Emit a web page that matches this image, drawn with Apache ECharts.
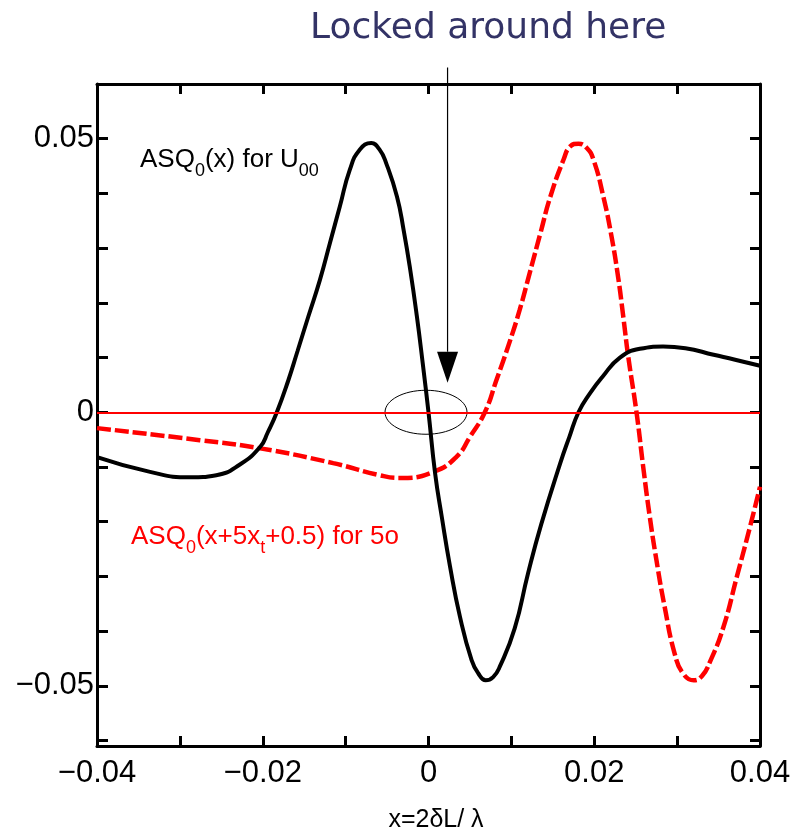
<!DOCTYPE html>
<html>
<head>
<meta charset="utf-8">
<script src="https://cdn.jsdelivr.net/npm/echarts@6/dist/echarts.min.js"></script>
<style>
  html, body { margin: 0; padding: 0; background: #fff; }
  #chart { width: 795px; height: 833px; }
</style>
</head>
<body>
<div id="chart"></div>
<script>
// Tick positions and labelled values
const xTicks = [-0.04, -0.03, -0.02, -0.01, 0, 0.01, 0.02, 0.03, 0.04];
const xLabels = [-0.04, -0.02, 0, 0.02, 0.04];
const yTicks = [-0.06, -0.05, -0.04, -0.03, -0.02, -0.01, 0, 0.01, 0.02, 0.03, 0.04, 0.05, 0.06];
const yLabels = [-0.05, 0, 0.05];

// ASQ0(x) for U00  [x, ASQ]
const asqU00 = [
  [-0.0400, -0.0082], [-0.0336, -0.0109], [-0.0288, -0.0119], [-0.0256, -0.0115],
  [-0.0228, -0.0096], [-0.0203, -0.0063], [-0.0194, -0.0037], [-0.0183, 0.0000],
  [-0.0169, 0.0059], [-0.0158, 0.0112], [-0.0145, 0.0175], [-0.0131, 0.0242],
  [-0.0119, 0.0309], [-0.0107, 0.0376], [-0.0095, 0.0443], [-0.0083, 0.0480],
  [-0.0069, 0.0492], [-0.0059, 0.0480], [-0.0051, 0.0455], [-0.0038, 0.0394],
  [-0.0030, 0.0333], [-0.0022, 0.0260], [-0.0014, 0.0175], [-0.0007, 0.0090],
  [0.0000, 0.0000], [0.0008, -0.0112], [0.0016, -0.0191], [0.0026, -0.0282],
  [0.0038, -0.0374], [0.0052, -0.0453], [0.0060, -0.0477], [0.0069, -0.0490],
  [0.0078, -0.0484], [0.0086, -0.0465], [0.0104, -0.0395], [0.0120, -0.0295],
  [0.0136, -0.0205], [0.0159, -0.0093], [0.0170, -0.0045], [0.0181, 0.0000],
  [0.0195, 0.0035], [0.0210, 0.0065], [0.0231, 0.0100], [0.0255, 0.0116],
  [0.0283, 0.0120], [0.0310, 0.0117], [0.0344, 0.0105], [0.0370, 0.0096],
  [0.0400, 0.0085]
];

// ASQ0(x+5xt+0.5) for 5o  [x, ASQ]
const asqShifted = [
  [-0.0400, -0.0029], [-0.0276, -0.0051], [-0.0203, -0.0066], [-0.0115, -0.0093],
  [-0.0059, -0.0115], [-0.0034, -0.0120], [0.0006, -0.0109], [0.0034, -0.0081],
  [0.0050, -0.0045], [0.0068, 0.0000], [0.0082, 0.0059], [0.0096, 0.0120],
  [0.0110, 0.0187], [0.0122, 0.0254], [0.0135, 0.0327], [0.0147, 0.0394],
  [0.0163, 0.0462], [0.0171, 0.0486], [0.0181, 0.0491], [0.0191, 0.0483],
  [0.0199, 0.0462], [0.0211, 0.0394], [0.0221, 0.0320], [0.0229, 0.0245],
  [0.0235, 0.0175], [0.0241, 0.0102], [0.0251, 0.0000], [0.0259, -0.0099],
  [0.0267, -0.0191], [0.0275, -0.0270], [0.0285, -0.0356], [0.0297, -0.0441],
  [0.0307, -0.0477], [0.0320, -0.0490], [0.0330, -0.0482], [0.0340, -0.0455],
  [0.0356, -0.0392], [0.0372, -0.0301], [0.0388, -0.0209], [0.0400, -0.0136]
];

// Reference level and the "locked" annotation anchors (data coordinates)
const zeroLevel = 0;
const lockArrowTip = [0.0023, 0.0054];
const lockArrowTail = [0.0023, 0.063];
const lockRegionCenter = [-0.0003, 0];

const FONT = '"Liberation Sans", Arial, Helvetica, sans-serif';
const fmt = v => {
  if (Math.abs(v) < 1e-12) return '0';
  const s = Math.abs(v).toFixed(2);
  return v < 0 ? '\u2212' + s : s;
};

const frameLine = { onZero: false, lineStyle: { color: '#000', width: 3 } };
const tickStyle = { color: '#000', width: 3 };

const chart = echarts.init(document.getElementById('chart'), null, { renderer: 'canvas' });

chart.setOption({
  animation: false,
  backgroundColor: '#fff',
  grid: { left: 97, right: 35, top: 84, bottom: 87, containLabel: false },
  xAxis: [
    {
      type: 'value', position: 'bottom', min: -0.04, max: 0.04,
      axisLine: frameLine,
      axisTick: { inside: true, length: 10, lineStyle: tickStyle, customValues: xTicks },
      axisLabel: { customValues: xLabels, formatter: fmt, fontSize: 31, color: '#000',
                   fontFamily: FONT, margin: 12 },
      splitLine: { show: false }
    },
    {
      type: 'value', position: 'top', min: -0.04, max: 0.04,
      axisLine: frameLine,
      axisTick: { inside: true, length: 10, lineStyle: tickStyle, customValues: xTicks },
      axisLabel: { show: false },
      splitLine: { show: false }
    }
  ],
  yAxis: [
    {
      type: 'value', position: 'left', min: -0.061, max: 0.06,
      axisLine: frameLine,
      axisTick: { inside: true, length: 11, lineStyle: tickStyle, customValues: yTicks },
      axisLabel: { customValues: yLabels, formatter: fmt, fontSize: 31, color: '#000',
                   fontFamily: FONT, margin: 3 },
      splitLine: { show: false }
    },
    {
      type: 'value', position: 'right', min: -0.061, max: 0.06,
      axisLine: frameLine,
      axisTick: { inside: true, length: 10, lineStyle: tickStyle, customValues: yTicks },
      axisLabel: { show: false },
      splitLine: { show: false }
    }
  ],
  series: [
    {
      name: 'ASQ0(x+5xt+0.5) for 5o',
      type: 'line', xAxisIndex: 0, yAxisIndex: 0,
      data: asqShifted, showSymbol: false, smooth: 0.5,
      lineStyle: { color: '#ff0000', width: 4.5, type: [14, 4], cap: 'butt' },
      z: 3,
      markLine: {
        silent: true, symbol: ['none', 'none'], label: { show: false },
        lineStyle: { color: '#ff0000', width: 2, type: 'solid' },
        data: [{ yAxis: zeroLevel }]
      }
    },
    {
      name: 'ASQ0(x) for U00',
      type: 'line', xAxisIndex: 0, yAxisIndex: 0,
      data: asqU00, showSymbol: false, smooth: 0.5,
      lineStyle: { color: '#000', width: 4 },
      z: 4
    }
  ]
});

// Annotations placed from data coordinates
const toPx = p => chart.convertToPixel({ xAxisIndex: 0, yAxisIndex: 0 }, p);
const tip = toPx(lockArrowTip);
const tail = toPx(lockArrowTail);
const ctr = toPx(lockRegionCenter);
const headLen = 31, headHalf = 10.5;

chart.setOption({
  graphic: [
    {
      type: 'text', x: 310, y: 29,
      style: { text: 'Locked around here', fontSize: 36, fontFamily: '"DejaVu Sans", sans-serif',
               fill: '#333366', verticalAlign: 'middle' }
    },
    {
      type: 'line',
      shape: { x1: tail[0], y1: tail[1], x2: tip[0], y2: tip[1] - headLen },
      style: { stroke: '#000', lineWidth: 1.2 }
    },
    {
      type: 'polygon',
      shape: { points: [[tip[0] - headHalf, tip[1] - headLen], [tip[0] + headHalf, tip[1] - headLen], [tip[0], tip[1]]] },
      style: { fill: '#000' }
    },
    {
      type: 'ellipse',
      shape: { cx: ctr[0], cy: ctr[1], rx: 41, ry: 22 },
      style: { fill: 'none', stroke: '#000', lineWidth: 1 }
    },
    {
      type: 'text', x: 140, y: 160,
      style: {
        text: '{n|ASQ}{s|0}{n|(x) for U}{s|00}',
        verticalAlign: 'middle',
        rich: {
          n: { fontSize: 26, fontFamily: FONT, fill: '#000', lineHeight: 40 },
          s: { fontSize: 18, fontFamily: FONT, fill: '#000', lineHeight: 20, verticalAlign: 'bottom' }
        }
      }
    },
    {
      type: 'text', x: 131, y: 537,
      style: {
        text: '{n|ASQ}{s|0}{n|(x+5x}{s|t}{n|+0.5) for 5o}',
        verticalAlign: 'middle',
        rich: {
          n: { fontSize: 26, fontFamily: FONT, fill: '#ff0000', lineHeight: 40 },
          s: { fontSize: 18, fontFamily: FONT, fill: '#ff0000', lineHeight: 20, verticalAlign: 'bottom' }
        }
      }
    },
    {
      type: 'text', x: 436, y: 820,
      style: { text: 'x=2\u03b4L/ \u03bb', fontSize: 25, fontFamily: FONT, fill: '#000',
               align: 'center', verticalAlign: 'middle' }
    }
  ]
});
</script>
</body>
</html>
